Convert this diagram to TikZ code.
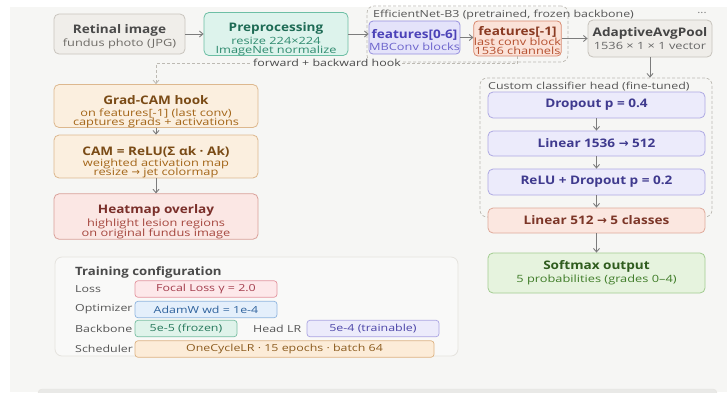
\documentclass[tikz,border=0pt]{standalone}
\usepackage{fontspec}
\setmainfont{Open Sans}[FakeStretch=1.15]
\newfontfamily\subf{Open Sans}[FakeStretch=1.28]
\newfontfamily\symf{DejaVu Sans}
\usetikzlibrary{arrows.meta}
\definecolor{bgc}{HTML}{F6F6F4}
\definecolor{arrc}{HTML}{7C7C7C}
\definecolor{lblc}{HTML}{555555}
\definecolor{grpc}{HTML}{BDBAB3}
% box colours
\definecolor{retF}{HTML}{F0EEEA}\definecolor{retD}{HTML}{C9C5BE}\definecolor{retT}{HTML}{4A4A4A}\definecolor{retS}{HTML}{6E6B66}
\definecolor{preF}{HTML}{DDF3EC}\definecolor{preD}{HTML}{6DBFA5}\definecolor{preT}{HTML}{1E6B55}\definecolor{preS}{HTML}{2E8A6E}
\definecolor{fsF}{HTML}{E4E3FA}\definecolor{fsD}{HTML}{9690DE}\definecolor{fsT}{HTML}{4B42B8}\definecolor{fsS}{HTML}{6C64CC}
\definecolor{flF}{HTML}{FBE2D8}\definecolor{flD}{HTML}{D98A70}\definecolor{flT}{HTML}{8A3A22}\definecolor{flS}{HTML}{B5502F}
\definecolor{avF}{HTML}{EFEDE9}\definecolor{avD}{HTML}{C7C3BC}\definecolor{avT}{HTML}{454545}\definecolor{avS}{HTML}{666666}
\definecolor{orF}{HTML}{FBEFDF}\definecolor{orD}{HTML}{DDB88E}\definecolor{orT}{HTML}{7A4B16}\definecolor{orS}{HTML}{A36518}
\definecolor{htF}{HTML}{FBE7E4}\definecolor{htD}{HTML}{D9A099}\definecolor{htT}{HTML}{7A2F2A}\definecolor{htS}{HTML}{A5463D}
\definecolor{lvF}{HTML}{ECEBFB}\definecolor{lvD}{HTML}{AEA9E3}\definecolor{lvT}{HTML}{3F3A8E}
\definecolor{lnF}{HTML}{FBE7E0}\definecolor{lnD}{HTML}{DFAA9A}\definecolor{lnT}{HTML}{7C3628}
\definecolor{sfF}{HTML}{E6F3DE}\definecolor{sfD}{HTML}{A2CC90}\definecolor{sfT}{HTML}{2F5C1E}\definecolor{sfS}{HTML}{3F7C28}
\definecolor{trF}{HTML}{F9F9F8}\definecolor{trD}{HTML}{E5E3DE}
\definecolor{fcF}{HTML}{FDE8EA}\definecolor{fcD}{HTML}{E3959F}\definecolor{fcT}{HTML}{A33C4C}
\definecolor{adF}{HTML}{E4EFFB}\definecolor{adD}{HTML}{8FB5DF}\definecolor{adT}{HTML}{2D619C}
\definecolor{fzF}{HTML}{DFF3EA}\definecolor{fzD}{HTML}{78BEA2}\definecolor{fzT}{HTML}{25785B}
\definecolor{tbF}{HTML}{ECEBFB}\definecolor{tbD}{HTML}{AAA4E2}\definecolor{tbT}{HTML}{4C45A8}
\definecolor{ocF}{HTML}{FCECD8}\definecolor{ocD}{HTML}{DDB383}\definecolor{ocT}{HTML}{8C5C1F}
\definecolor{botc}{HTML}{E9E9E7}
\newcommand\Ttl[2]{{\fontsize{11.8}{13}\selectfont\bfseries\textcolor{#1}{#2}}}
\newcommand\Sub[2]{{\subf\fontsize{10}{10}\selectfont\textcolor{#1}{#2}}}
\newcommand\Lay[2]{{\fontsize{11.8}{13}\selectfont\bfseries\textcolor{#1}{#2}}}
\newcommand\Arr{{\symf →}}
\newcommand\Up[1]{\rule{0pt}{#1pt}}
\begin{document}
\begin{tikzpicture}[x=1pt,y=-1pt,
  box/.style={draw, rounded corners=5pt, line width=0.8pt, align=center, inner sep=0pt, font=\fontsize{10}{10}\selectfont},
  chip/.style={draw, rounded corners=3pt, line width=0.7pt, align=center, inner sep=0pt, minimum height=16.5pt, font=\subf\fontsize{9.7}{11}\selectfont},
  grp/.style={draw=grpc, dashed, dash pattern=on 3pt off 2pt, rounded corners=7pt, line width=0.7pt, inner sep=0pt},
  arr/.style={draw=arrc, line width=0.9pt, -{Straight Barb[length=3.5pt,width=6pt]}},
  hookarr/.style={draw=grpc, line width=0.8pt, dash pattern=on 3pt off 2pt, -{Straight Barb[length=3.5pt,width=6pt]}},
  glbl/.style={anchor=west, inner sep=0pt, text=lblc, font=\subf\fontsize{9.7}{11}\selectfont},
  tlbl/.style={anchor=west, inner sep=0pt, text=lblc, font=\subf\fontsize{9.7}{11}\selectfont}
]
\useasboundingbox (0,0) rectangle (727,392);
\fill[white] (0,0) rectangle (727,392);
\fill[bgc] (10,7) rectangle (727,392);
\begin{scope}
\clip (0,0) rectangle (727,392);
\draw[draw=trD, fill=botc, rounded corners=4pt] (38,389) rectangle (717,400);
\end{scope}

% groups
\node[grp, minimum width=201pt, minimum height=56pt] (eff) at (467.5,34) {};
\node[grp, minimum width=232pt, minimum height=139pt] (head) at (596,147.5) {};
\node[glbl] (efflbl) at (373,15) {EfficientNet-B3 (pretrained, frozen backbone)};
\node[glbl] (headlbl) at (488,87) {Custom classifier head (fine-tuned)};
\node[text=arrc, inner sep=0pt, font=\fontsize{10}{11}\selectfont] (dots) at (702,14) {···};

% top row
\node[box, fill=retF, draw=retD, minimum width=131pt, minimum height=40pt] (ret) at (119.5,34)
  {\Up{14}\Ttl{retT}{Retinal image}\\[1.5pt]\Sub{retS}{fundus photo (JPG)}};
\node[box, fill=preF, draw=preD, minimum width=144pt, minimum height=40pt] (pre) at (276,34)
  {\Up{19}\Ttl{preT}{Preprocessing}\\[1.5pt]\Sub{preS}{resize 224×224}\\[-1pt]\Sub{preS}{ImageNet normalize}};
\node[box, fill=fsF, draw=fsD, rounded corners=4pt, minimum width=83pt, minimum height=33pt] (f06) at (414.5,37.5)
  {\Up{14}\Ttl{fsT}{features[0-6]}\\[1.5pt]\Sub{fsS}{MBConv blocks}};
\node[box, fill=flF, draw=flD, rounded corners=4pt, minimum width=87pt, minimum height=35pt] (f1) at (517.5,38.5)
  {\Up{13}\Ttl{flT}{features[-1]}\\[0pt]\Sub{flS}{last conv block}\\[-0.3pt]\Sub{flS}{1536 channels}};
\node[box, fill=avF, draw=avD, minimum width=124pt, minimum height=37pt] (avg) at (650,38.5)
  {\Ttl{avT}{AdaptiveAvgPool}\\[1.5pt]\Sub{avS}{1536 × 1 × 1 vector}};

% classifier column
\node[box, fill=lvF, draw=lvD, minimum width=217pt, minimum height=26pt] (drop) at (596.5,105) {\Lay{lvT}{Dropout p = 0.4}};
\node[box, fill=lvF, draw=lvD, minimum width=217pt, minimum height=25pt] (lin1) at (596.5,143.5) {\Lay{lvT}{Linear 1536 \Arr\ 512}};
\node[box, fill=lvF, draw=lvD, minimum width=217pt, minimum height=26pt] (relu) at (596.5,182) {\Lay{lvT}{ReLU + Dropout p = 0.2}};
\node[box, fill=lnF, draw=lnD, minimum width=217pt, minimum height=25pt] (lin2) at (596.5,220.5) {\Lay{lnT}{Linear 512 \Arr\ 5 classes}};
\node[box, fill=sfF, draw=sfD, minimum width=217pt, minimum height=40pt] (soft) at (596.5,273)
  {\Ttl{sfT}{Softmax output}\\[1.5pt]\Sub{sfS}{5 probabilities (grades 0–4)}};

% Grad-CAM column
\node[box, fill=orF, draw=orD, minimum width=204pt, minimum height=40pt] (gc) at (156,106)
  {\Up{20}\Ttl{orT}{Grad-CAM hook}\\[1.5pt]\Sub{orS}{on features[-1] (last conv)}\\[-1pt]\Sub{orS}{captures grads + activations}};
\node[box, fill=orF, draw=orD, minimum width=204pt, minimum height=39pt] (cam) at (156,156.5)
  {\Up{20}\Ttl{orT}{CAM = ReLU(Σ αk · Ak)}\\[1.5pt]\Sub{orS}{weighted activation map}\\[-1pt]\Sub{orS}{resize \Arr\ jet colormap}};
\node[box, fill=htF, draw=htD, minimum width=204pt, minimum height=39pt] (heat) at (156,216.5)
  {\Up{20}\Ttl{htT}{Heatmap overlay}\\[1.5pt]\Sub{htS}{highlight lesion regions}\\[-1pt]\Sub{htS}{on original fundus image}};

% training configuration
\node[draw=trD, fill=trF, rounded corners=7pt, line width=0.8pt, minimum width=403pt, minimum height=99pt] (train) at (256.5,306.5) {};
\node[anchor=west, inner sep=0pt, text=retT, font=\fontsize{11.5}{13}\selectfont\bfseries] (ttitle) at (75,272) {Training configuration};
\node[tlbl] (lloss) at (75,289) {Loss};
\node[tlbl] (lopt) at (75,309.5) {Optimizer};
\node[tlbl] (lbb) at (75,328.5) {Backbone};
\node[tlbl] (lsch) at (75,349) {Scheduler};
\node[chip, fill=fcF, draw=fcD, text=fcT, minimum width=142pt] (focal) at (206,289) {Focal Loss γ = 2.0};
\node[chip, fill=adF, draw=adD, text=adT, minimum width=142pt] (adam) at (206,309.5) {AdamW wd = 1e-4};
\node[chip, fill=fzF, draw=fzD, text=fzT, minimum width=102pt] (frz) at (186,328.5) {5e-5 (frozen)};
\node[tlbl] (lhead) at (253,328.5) {Head LR};
\node[chip, fill=tbF, draw=tbD, text=tbT, minimum width=132pt] (trn) at (373,328.5) {5e-4 (trainable)};
\node[chip, fill=ocF, draw=ocD, text=ocT, minimum width=299pt] (onec) at (284.5,349) {OneCycleLR · 15 epochs · batch 64};

% connectors
\draw[arr] (ret) -- (pre);
\draw[arr] (pre.east) -- (pre.east -| f06.west);
\draw[arr] (f06.east) -- (f06.east -| f1.west);
\draw[arr] (f1.east) -- (f1.east -| avg.west);
\draw[arr] (avg.south) -- (avg.south |- head.north);
\draw[arr] (drop) -- (lin1);
\draw[arr] (lin1) -- (relu);
\draw[arr] (relu) -- (lin2);
\draw[arr] (lin2) -- (soft);
\draw[arr] (gc) -- (cam);
\draw[arr] (cam) -- (heat);
\draw[hookarr] (f1.south) -- ++(0,7) -| (gc.north);
\node[fill=bgc, inner sep=1pt, text=retT, font=\subf\fontsize{9.7}{11}\selectfont] (hooklbl) at (327,63) {forward + backward hook};
\end{tikzpicture}
\end{document}
